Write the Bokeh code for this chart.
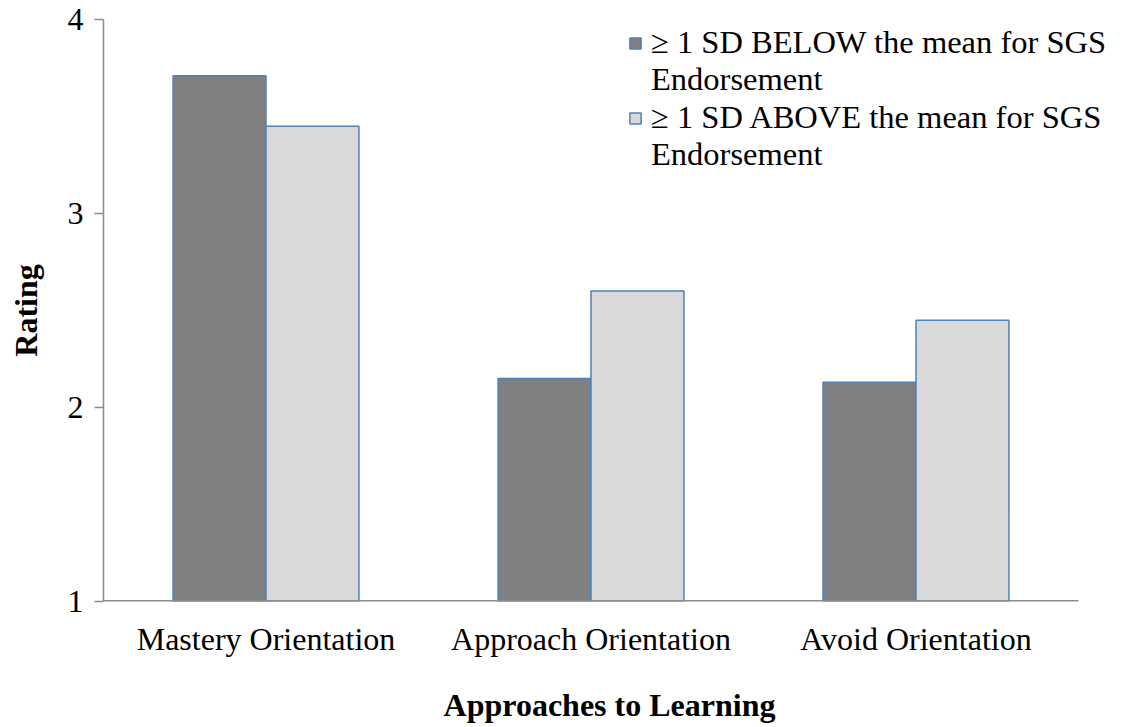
from bokeh.plotting import figure
from bokeh.models import ColumnDataSource, Legend, LegendItem, Range1d, FixedTicker
from bokeh.embed import file_html
from bokeh.resources import INLINE

categories = ["Mastery Orientation", "Approach Orientation", "Avoid Orientation"]
below_mean = [3.71, 2.15, 2.13]
above_mean = [3.45, 2.60, 2.45]
series_first_lines = ["\u2265 1 SD BELOW the mean for SGS", "\u2265 1 SD ABOVE the mean for SGS"]
series_second_line = "Endorsement"
y_ticks = [1, 2, 3, 4]

FONT = "Liberation Serif"
BAR_W = 0.286
n = len(categories)
centers = [i + 0.5 for i in range(n)]

src = ColumnDataSource(dict(
    x_below=[c - BAR_W / 2 for c in centers],
    x_above=[c + BAR_W / 2 for c in centers],
    below=below_mean, above=above_mean, base=[1] * n))

# frame is a bit wider than the category area so the legend text is not clipped
p = figure(x_range=Range1d(0, n * 1012 / 975), y_range=Range1d(1, 4),
           width=1123, height=727, output_backend="svg", toolbar_location=None,
           min_border_left=103, min_border_right=8, min_border_top=19, min_border_bottom=126)

r1 = p.vbar(x="x_below", bottom="base", top="below", width=BAR_W,
            source=src, fill_color="#808080", line_color="#4F81BD", line_width=1.5)
r2 = p.vbar(x="x_above", bottom="base", top="above", width=BAR_W,
            source=src, fill_color="#D9D9D9", line_color="#4F81BD", line_width=1.5)
# invisible renderer used for the continuation lines of the legend labels
blank = p.vbar(x=[], top=[], width=0.1, fill_alpha=0, line_alpha=0)
# x axis baseline spanning only the category area
p.segment(x0=[0], x1=[n], y0=[y_ticks[0]], y1=[y_ticks[0]], line_color="#8C8C8C", line_width=3)

p.xgrid.visible = False
p.ygrid.visible = False
p.outline_line_color = None

p.yaxis.ticker = y_ticks
p.xaxis.ticker = FixedTicker(ticks=centers)
p.xaxis.major_label_overrides = {c: lab for c, lab in zip(centers, categories)}
p.yaxis.axis_label = "Rating"
p.xaxis.axis_label = "Approaches to Learning"
for ax in (p.xaxis[0], p.yaxis[0]):
    ax.axis_line_color = "#8C8C8C"
    ax.axis_line_width = 1.5
    ax.major_tick_line_color = "#8C8C8C"
    ax.major_tick_line_width = 1.5
    ax.minor_tick_line_color = None
    ax.major_label_text_font = FONT
    ax.major_label_text_font_size = "32px"
    ax.major_label_text_color = "black"
    ax.axis_label_text_font = FONT
    ax.axis_label_text_font_size = "32px"
    ax.axis_label_text_font_style = "bold"
    ax.axis_label_text_color = "black"

p.xaxis.axis_line_color = None
p.xaxis.major_tick_line_color = None
p.xaxis.minor_tick_out = 0
p.xaxis.minor_tick_in = 0
p.yaxis.major_tick_in = 0
p.yaxis.major_tick_out = 9
p.yaxis.minor_tick_out = 0
p.yaxis.minor_tick_in = 0
p.yaxis.major_label_standoff = 11
p.yaxis.axis_label_standoff = 21
p.xaxis.major_tick_in = 0
p.xaxis.major_tick_out = 0
p.xaxis.major_label_standoff = 19
p.xaxis.axis_label_standoff = 27


def make_legend(first_line, renderer, loc):
    return Legend(items=[LegendItem(label=first_line, renderers=[renderer]),
                         LegendItem(label=series_second_line, renderers=[blank])],
                  location=loc, orientation="vertical",
                  label_text_font=FONT, label_text_font_size="32.5px", label_text_color="black",
                  label_height=34,
                  glyph_width=14, glyph_height=14, label_standoff=9, spacing=0,
                  padding=0, margin=0, border_line_color=None, background_fill_alpha=0)


p.add_layout(make_legend(series_first_lines[0], r1, (525, 503)))
p.add_layout(make_legend(series_first_lines[1], r2, (525, 428)))

open("out.html", "w").write(file_html(p, INLINE))
